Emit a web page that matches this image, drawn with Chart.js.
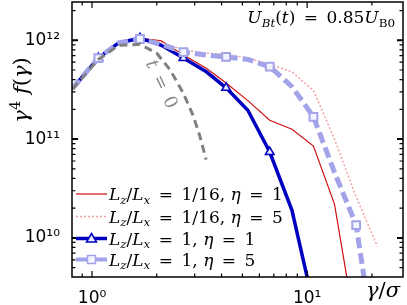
<!DOCTYPE html>
<html>
<head>
<meta charset="utf-8">
<script src="https://cdn.jsdelivr.net/npm/chart.js@4.4.1/dist/chart.umd.min.js"></script>
<style>
  html, body { margin: 0; padding: 0; background: #fff; }
  #wrap { width: 407px; height: 305px; }
</style>
</head>
<body>
<div id="wrap"><canvas id="chart" width="407" height="305"></canvas></div>
<script>
// gamma / sigma sample points
const gammaSim = [0.81, 1.07, 1.33, 1.67, 2.1, 2.66, 3.4, 4.2, 5.3, 6.7, 8.5, 10.7, 13.4, 16.9, 21.2];
const gammaInit = [0.81, 1.07, 1.33, 1.67, 2.0, 2.31, 2.66, 2.96, 3.18, 3.39];

// gamma^4 f(gamma)
const fInit = [3.2e11, 6.4e11, 8.9e11, 9.1e11, 7.4e11, 5.0e11, 2.9e11, 1.7e11, 1.05e11, 6.2e10];
const fThinEta1 = [3.25e11, 6.6e11, 9.4e11, 1.05e12, 9.9e11, 7.1e11, 5.2e11, 3.7e11, 2.45e11, 1.55e11, 1.26e11, 8.5e10, 2.2e10, 1.1e9, null];
const fThinEta5 = [3.25e11, 6.6e11, 9.4e11, 1.05e12, 9.5e11, 8.0e11, 7.4e11, 7.2e11, 6.6e11, 5.7e11, 4.8e11, 3.1e11, 1.0e11, 2.6e10, 8.2e9];
const fCubeEta1 = [3.25e11, 6.6e11, 9.4e11, 1.05e12, 8.9e11, 6.6e11, 4.8e11, 3.3e11, 1.96e11, 7.4e10, 1.9e10, 2.1e9, null, null, null];
const fCubeEta5 = [3.25e11, 6.6e11, 9.4e11, 1.03e12, 9.1e11, 7.6e11, 7.1e11, 6.8e11, 6.4e11, 5.4e11, 3.4e11, 1.68e11, 4.6e10, 1.35e10, 5e8];

const xTickVals = [1, 10];
const xTickLabels = ['10\u2070', '10\u00B9'];
const yTickVals = [1e10, 1e11, 1e12];
const yTickLabels = ['10\u00B9\u2070', '10\u00B9\u00B9', '10\u00B9\u00B2'];

const pts = (xs, ys) => xs.map((x, i) => ({ x: x, y: ys[i] }));
const everyOther = (r) => (c) => (c.dataIndex % 2 === 1 ? r : 0);

const SERIF = '"DejaVu Serif", serif';
const EQ = '\u2002=\u2002';

// draw a run of math-like text pieces, returns width
function mathText(ctx, x, y, parts, size, color, measureOnly) {
  let cx = x;
  parts.forEach(([txt, kind]) => {
    let fs = size, dy = 0, style = 'italic ';
    if (kind === 'r') style = '';
    if (kind === 'sub' || kind === 'subr') { fs = size * 0.7; dy = size * 0.22; }
    if (kind === 'subr') style = '';
    if (kind === 'sup') { fs = size * 0.7; dy = -size * 0.4; style = ''; }
    ctx.font = style + fs + 'px ' + SERIF;
    if (!measureOnly) {
      ctx.fillStyle = color;
      ctx.fillText(txt, cx, y + dy);
    }
    cx += ctx.measureText(txt).width;
  });
  return cx - x;
}

const legendRows = [
  { parts: [['L','i'],['z','sub'],['/','r'],['L','i'],['x','sub'],[EQ + '1/16, ','r'],['\u03B7','i'],[EQ + '1','r']],
    color: '#cc1111', width: 1.2, dash: [], marker: null },
  { parts: [['L','i'],['z','sub'],['/','r'],['L','i'],['x','sub'],[EQ + '1/16, ','r'],['\u03B7','i'],[EQ + '5','r']],
    color: '#f2a0a0', width: 1.5, dash: [2, 2], marker: null },
  { parts: [['L','i'],['z','sub'],['/','r'],['L','i'],['x','sub'],[EQ + '1, ','r'],['\u03B7','i'],[EQ + '1','r']],
    color: '#0000c0', width: 3.5, dash: [], marker: 'triangle' },
  { parts: [['L','i'],['z','sub'],['/','r'],['L','i'],['x','sub'],[EQ + '1, ','r'],['\u03B7','i'],[EQ + '5','r']],
    color: '#a3a3ea', width: 4, dash: [], marker: 'rect' }
];

const decor = {
  id: 'decor',
  afterDatasetsDraw(chart) {
    const ctx = chart.ctx;
    const a = chart.chartArea;
    const xs = chart.scales.x, ys = chart.scales.y;
    ctx.save();
    ctx.strokeStyle = '#000';

    // inward ticks on all four sides
    ctx.lineWidth = 1.2;
    for (let d = -1; d <= 1; d++) {
      for (let m = 1; m <= 9; m++) {
        const v = m * Math.pow(10, d);
        const px = xs.getPixelForValue(v);
        if (px < a.left || px > a.right) continue;
        const len = m === 1 ? 6 : 3.5;
        ctx.beginPath();
        ctx.moveTo(px, a.bottom); ctx.lineTo(px, a.bottom - len);
        ctx.moveTo(px, a.top); ctx.lineTo(px, a.top + len);
        ctx.stroke();
      }
    }
    for (let d = 9; d <= 12; d++) {
      for (let m = 1; m <= 9; m++) {
        const v = m * Math.pow(10, d);
        const py = ys.getPixelForValue(v);
        if (py < a.top || py > a.bottom) continue;
        const len = m === 1 ? 6 : 3.5;
        ctx.lineWidth = m === 1 ? 2 : 1.2;
        ctx.beginPath();
        ctx.moveTo(a.left, py); ctx.lineTo(a.left + len, py);
        ctx.moveTo(a.right, py); ctx.lineTo(a.right - len, py);
        ctx.stroke();
      }
    }

    // frame
    ctx.lineWidth = 1.5;
    ctx.strokeRect(a.left, a.top, a.right - a.left, a.bottom - a.top);

    // legend
    ctx.textBaseline = 'alphabetic';
    const rowY = [194, 216.5, 238.5, 259.5];
    legendRows.forEach((r, i) => {
      const y = rowY[i];
      ctx.save();
      ctx.strokeStyle = r.color;
      ctx.lineWidth = r.width;
      ctx.setLineDash(r.dash);
      ctx.beginPath();
      ctx.moveTo(76, y); ctx.lineTo(107, y);
      ctx.stroke();
      ctx.setLineDash([]);
      if (r.marker === 'triangle') {
        ctx.fillStyle = '#e8e8ff';
        ctx.lineWidth = 1.5;
        ctx.beginPath();
        ctx.moveTo(91.5, y - 5); ctx.lineTo(96.5, y + 3.5); ctx.lineTo(86.5, y + 3.5); ctx.closePath();
        ctx.fill(); ctx.stroke();
      } else if (r.marker === 'rect') {
        ctx.fillStyle = '#f4f4ff';
        ctx.lineWidth = 1.5;
        ctx.fillRect(87.5, y - 4, 8, 8);
        ctx.strokeRect(87.5, y - 4, 8, 8);
      }
      ctx.restore();
      mathText(ctx, 109, y + 6, r.parts, 17, '#000');
    });

    // top-right annotation
    const ann = [['U','i'],['Bt','sub'],['(','r'],['t','i'],[')','r'],[EQ + '0.85','r'],['U','i'],['B0','subr']];
    const w = mathText(ctx, 0, 0, ann, 17, '#000', true);
    mathText(ctx, 395 - w, 23, ann, 17, '#000');

    // t = 0 label along the initial curve
    ctx.save();
    ctx.translate(162, 84);
    ctx.rotate(Math.PI * 0.36);
    const tp = [['t','i'],[EQ + '0','r']];
    const tw = mathText(ctx, 0, 0, tp, 18, '#888', true);
    mathText(ctx, -tw / 2, 6, tp, 18, '#888');
    ctx.restore();

    // y axis title
    ctx.save();
    ctx.translate(28, 90);
    ctx.rotate(-Math.PI / 2);
    const yp = [['\u03B3','i'],['4','sup'],[' f','i'],['(','r'],['\u03B3','i'],[')','r']];
    const yw = mathText(ctx, 0, 0, yp, 21, '#000', true);
    mathText(ctx, -yw / 2, 0, yp, 21, '#000');
    ctx.restore();

    // x axis title
    const xp = [['\u03B3','i'],['/','r'],['\u03C3','i']];
    const xw = mathText(ctx, 0, 0, xp, 21, '#000', true);
    mathText(ctx, 400 - xw, 297, xp, 21, '#000');

    ctx.restore();
  }
};

const ctx = document.getElementById('chart').getContext('2d');
new Chart(ctx, {
  type: 'line',
  data: {
    datasets: [
      {
        label: 't = 0',
        data: pts(gammaInit, fInit),
        borderColor: '#808080', borderWidth: 3, borderDash: [8, 5],
        pointRadius: 0, order: 0
      },
      {
        label: 'Lz/Lx = 1/16, eta = 1',
        data: pts(gammaSim, fThinEta1),
        borderColor: '#cc1111', borderWidth: 1.2,
        pointRadius: 0, order: 3
      },
      {
        label: 'Lz/Lx = 1/16, eta = 5',
        data: pts(gammaSim, fThinEta5),
        borderColor: '#f2a0a0', borderWidth: 1.5, borderDash: [2, 2],
        pointRadius: 0, order: 4
      },
      {
        label: 'Lz/Lx = 1, eta = 1',
        data: pts(gammaSim, fCubeEta1),
        borderColor: '#0000c0', borderWidth: 3.5,
        pointStyle: 'triangle', pointRadius: everyOther(5),
        pointBorderColor: '#0000c0', pointBackgroundColor: '#e8e8ff', pointBorderWidth: 1.5,
        order: 2
      },
      {
        label: 'Lz/Lx = 1, eta = 5',
        data: pts(gammaSim, fCubeEta5),
        borderColor: '#a3a3ea', borderWidth: 5, borderDash: [11, 5],
        pointStyle: 'rect', pointRadius: everyOther(5.5),
        pointBorderColor: '#a3a3ea', pointBackgroundColor: '#f4f4ff', pointBorderWidth: 2,
        order: 1
      }
    ]
  },
  options: {
    responsive: false,
    animation: false,
    layout: { padding: { left: 0, right: 4, top: 2, bottom: 0 } },
    plugins: { legend: { display: false }, tooltip: { enabled: false } },
    elements: { line: { tension: 0 } },
    scales: {
      x: {
        type: 'logarithmic',
        min: 0.807, max: 27.9,
        grid: { display: false },
        border: { display: false },
        afterBuildTicks: (s) => { s.ticks = xTickVals.map(v => ({ value: v })); },
        afterFit: (s) => { s.height = 28; s.paddingLeft = 0; s.paddingRight = 0; },
        ticks: {
          autoSkip: false, maxRotation: 0, padding: 3,
          color: '#000',
          font: { family: '"DejaVu Sans"', size: 17 },
          callback: (v) => xTickLabels[xTickVals.indexOf(v)]
        }
      },
      y: {
        type: 'logarithmic',
        min: 4.02e9, max: 2.44e12,
        grid: { display: false },
        border: { display: false },
        afterBuildTicks: (s) => { s.ticks = yTickVals.map(v => ({ value: v })); },
        afterFit: (s) => { s.width = 72; s.paddingTop = 0; s.paddingBottom = 0; },
        ticks: {
          autoSkip: false, padding: 4,
          color: '#000',
          font: { family: '"DejaVu Sans"', size: 17 },
          callback: (v) => yTickLabels[yTickVals.indexOf(v)]
        }
      }
    }
  },
  plugins: [decor]
});
</script>
</body>
</html>
